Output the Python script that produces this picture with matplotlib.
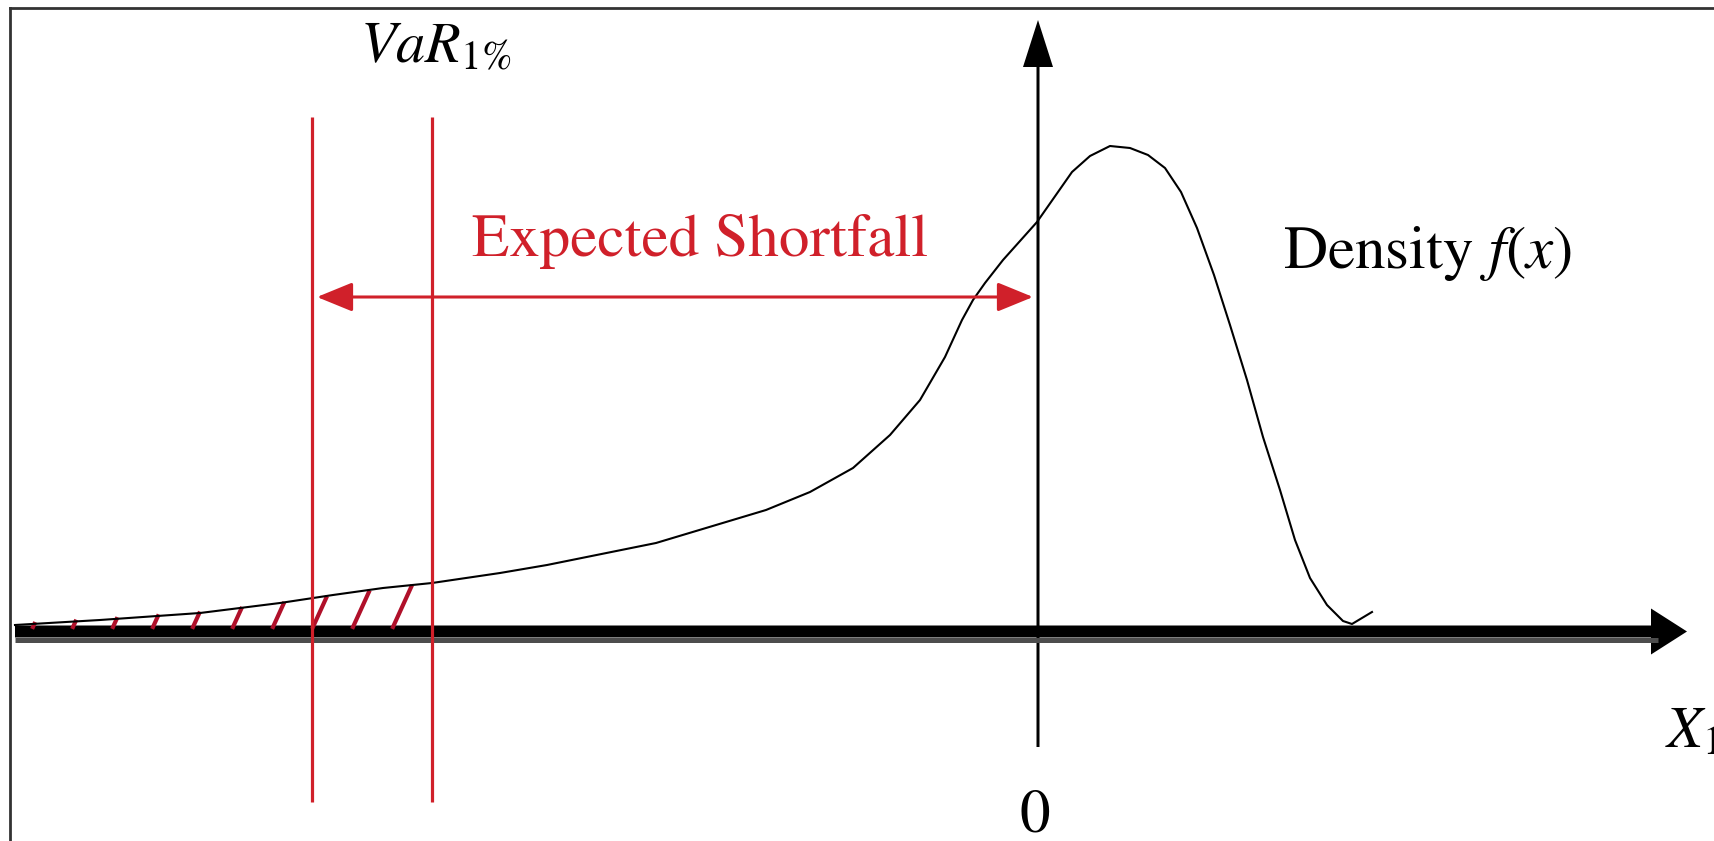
import numpy as np
import matplotlib
matplotlib.use("Agg")
import matplotlib.pyplot as plt

plt.rcParams['mathtext.fontset'] = 'stix'

# density curve (schematic units, 0 = vertical axis)
curve_x = [-10.23, -9.38, -8.38, -7.58, -7.05, -6.55, -6.06, -5.38, -4.91,
           -3.82, -2.72, -2.28, -1.85, -1.48, -1.18, -0.93, -0.76, -0.65,
           -0.53, -0.35, -0.01, 0.34, 0.52, 0.72, 0.92, 1.10, 1.27, 1.43,
           1.59, 1.76, 1.92, 2.09, 2.25, 2.42, 2.57, 2.72, 2.89, 3.05, 3.14,
           3.34]
curve_y = [0.09, 0.14, 0.21, 0.31, 0.39, 0.46, 0.51, 0.61, 0.69,
           0.91, 1.24, 1.42, 1.66, 1.99, 2.34, 2.77, 3.14, 3.34,
           3.51, 3.74, 4.12, 4.62, 4.78, 4.88, 4.86, 4.79, 4.66, 4.42,
           4.06, 3.59, 3.09, 2.54, 1.97, 1.44, 0.94, 0.56, 0.29, 0.13, 0.10,
           0.22]

es_left = -7.26      # left red line
var_x = -6.06        # VaR 1% line
es_label = "Expected Shortfall"

red = '#d0202a'

fig = plt.figure(figsize=(17.15, 8.41), dpi=100)
ax = fig.add_axes([0, 0, 1, 1])
ax.set_xlim(-10.38, 6.77)
ax.set_ylim(-2.07, 6.34)
ax.axis('off')

# frame (only top and left visible, the rest is cut off)
ax.axhline(6.26, xmin=0.006, color='#333333', lw=2)
ax.axvline(-10.28, ymax=0.99, color='#333333', lw=2)

# hatched tail under the curve left of VaR
for x0 in np.arange(-10.05, -6.2, 0.4):
    h = np.interp(x0, curve_x, curve_y) - 0.07
    ax.plot([x0, x0 + h / 2.2], [0.07, 0.07 + h], color='#b0102a', lw=3)

# x axis with shadow
ax.plot([-10.23, 6.2], [-0.06, -0.06], color='#4d4d4d', lw=3.6, solid_capstyle='butt')
ax.arrow(-10.23, 0.025, 16.72, 0, width=0.12, head_width=0.46, head_length=0.36,
         length_includes_head=True, color='k', lw=0)
# vertical axis
ax.arrow(0, -1.13, 0, 7.27, width=0.03, head_width=0.30, head_length=0.47,
         length_includes_head=True, color='k', lw=0)

# density curve
ax.plot(curve_x, curve_y, color='k', lw=1.5)

# red VaR lines
ax.vlines([es_left, var_x], -1.68, 5.17, color=red, lw=2.3)

# expected shortfall arrow
ax.annotate('', xy=(es_left + 0.05, 3.37), xytext=(-0.05, 3.37),
            arrowprops=dict(arrowstyle='<|-|>,head_length=1.1,head_width=0.45',
                            mutation_scale=20, color=red, lw=2.2,
                            shrinkA=0, shrinkB=0))

ax.text(-3.38, 3.78, es_label, color=red, fontsize=44, family='STIXGeneral',
        ha='center', va='baseline')
ax.text(2.45, 3.66, r'Density $f(x)$', color='k', fontsize=44,
        family='STIXGeneral', ha='left', va='baseline')
ax.text(-6.78, 5.71, r'$VaR_{\mathrm{1\%}}$', color='k', fontsize=42,
        ha='left', va='baseline')
ax.text(-0.03, -1.98, '0', color='k', fontsize=44, family='STIXGeneral',
        ha='center', va='baseline')
ax.text(6.27, -1.13, r'$X_1$', color='k', fontsize=42, ha='left', va='baseline')

plt.savefig('out.png', dpi=100)
